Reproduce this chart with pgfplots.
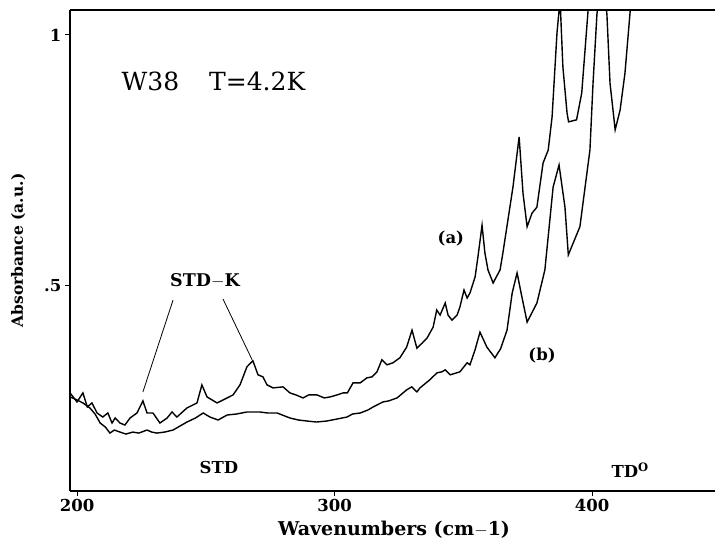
\documentclass[border=0pt]{standalone}
\usepackage{fontspec}
\setmainfont{DejaVu Serif}
\usepackage{pgfplots}
\pgfplotsset{compat=1.18}

\newcommand\lab{\fontsize{16.5}{18}\selectfont\bfseries}

\begin{document}
\begin{tikzpicture}
\begin{axis}[
    at={(0,0)}, anchor=south west,
    scale only axis,
    width=676.5pt, height=481pt,
    xmin=197.28, xmax=460,
    ymin=0.0916, ymax=1.0498,
    separate axis lines,
    axis x line=box, axis y line=left,
    x axis line style={-}, y axis line style={-},
    axis line style={line width=1.2pt},
    xtick={200,300,400}, xticklabels={200,300,400},
    ytick={0.5,1}, yticklabels={.5,1},
    tick pos=left, tick align=outside,
    major tick length=5pt,
    tick style={line width=1pt, black},
    tick label style={font=\lab},
    clip mode=individual,
    xlabel={Wavenumbers (cm$-$1)},
    ylabel={Absorbance (a.u.)},
    xlabel style={at={(ticklabel cs:0.479)}, anchor=north, font=\fontsize{19}{21}\selectfont\bfseries, yshift=-2pt},
    ylabel style={font=\fontsize{15.5}{17}\selectfont\bfseries, yshift=12pt},
]
% curve (a), upper
\addplot[black, line width=1.4pt] coordinates {
(197.3,0.287) (200,0.269) (202.3,0.287) (204,0.259) (205.8,0.267) (207.8,0.247)
(210,0.239) (212,0.247) (213.6,0.227) (214.8,0.237) (216.7,0.227) (218.6,0.223)
(220.6,0.237) (223.3,0.247) (225.6,0.271) (227.2,0.247) (229.5,0.247) (232.2,0.227)
(235,0.237) (236.9,0.249) (238.8,0.239) (242.7,0.257) (246.6,0.267) (248.5,0.303)
(250.5,0.279) (254.4,0.267) (258.3,0.277) (260.6,0.283) (263.3,0.303) (266,0.339)
(268.3,0.351) (270.3,0.323) (272.2,0.319) (273.8,0.303) (276.1,0.297) (280,0.299)
(282.7,0.287) (285,0.283) (287.8,0.277) (290,0.283) (293.2,0.283) (296,0.277)
(298.3,0.279) (301,0.283) (303.3,0.287) (305,0.287) (307.2,0.307) (310,0.307)
(312.6,0.317) (314.6,0.319) (316.5,0.329) (318.4,0.353) (320.4,0.343) (322.7,0.347)
(325.4,0.357) (328,0.378) (330.1,0.412) (332,0.376) (334,0.386) (335.9,0.396)
(338.3,0.418) (339.7,0.452) (341,0.442) (343,0.466) (344.1,0.442) (345.6,0.432)
(347.6,0.442) (348.7,0.458) (350.3,0.492) (351.5,0.476) (352.6,0.486) (354.6,0.518)
(355.7,0.558) (357.3,0.621) (358.4,0.566) (359.6,0.532) (361.6,0.506) (364.3,0.532)
(365.4,0.566) (369.3,0.697) (371.7,0.797) (373.2,0.685) (374.8,0.618) (376.7,0.645)
(378.6,0.657) (381,0.745) (383,0.771) (384.5,0.837) (386.4,1.004) (387.6,1.07)
(388.7,0.936) (390.3,0.845) (390.9,0.827) (394,0.831) (396,0.884) (398.4,1.044)
(400,1.15) (402,1.25)
};
% curve (b), lower
\addplot[black, line width=1.4pt] coordinates {
(197.3,0.279) (200,0.273) (202.3,0.267) (205,0.257) (207,0.245) (209,0.227)
(211,0.219) (212.8,0.207) (214.5,0.213) (216.7,0.209) (219,0.205) (221.7,0.209)
(224,0.207) (227.2,0.213) (229,0.209) (231,0.207) (234,0.209) (237.3,0.213)
(240,0.221) (242.7,0.229) (246,0.237) (249,0.247) (251.6,0.239) (254.8,0.233)
(258.3,0.243) (262,0.245) (266,0.249) (271,0.249) (274,0.247) (277.7,0.247)
(282.7,0.237) (286,0.233) (289.3,0.231) (293,0.229) (297,0.231) (301,0.235)
(304.9,0.239) (307,0.245) (310,0.247) (313,0.253) (315,0.259) (318.8,0.269)
(321,0.271) (324.3,0.277) (328,0.293) (330,0.299) (332,0.289) (333.2,0.297)
(337,0.313) (339.8,0.327) (341.7,0.329) (343,0.333) (344.9,0.323) (348.7,0.329)
(351.5,0.347) (352.6,0.343) (354.6,0.373) (356.5,0.408) (359.2,0.378) (362.3,0.357)
(364.5,0.375) (367,0.412) (369,0.486) (370.9,0.526) (372.5,0.485) (374.8,0.428)
(378.6,0.466) (381.7,0.532) (384.9,0.697) (387.2,0.741) (389.5,0.657) (390.8,0.562)
(395.3,0.618) (399.2,0.771) (400.4,0.904) (401.9,1.04) (404,1.15) (405.8,1.04)
(407,0.904) (409,0.811) (410.9,0.85) (412.8,0.924) (414.8,1.046) (416,1.12)
};
% annotations
\node[font=\fontsize{25}{27}\selectfont] at (axis cs:253,0.908) {W38\hspace{1.2em}T=4.2K};
\node[font=\fontsize{17.5}{19}\selectfont\bfseries] at (axis cs:249.7,0.510) {STD$-$K};
\draw[line width=0.8pt] (axis cs:237.3,0.472) -- (axis cs:225.6,0.289);
\draw[line width=0.8pt] (axis cs:256.7,0.474) -- (axis cs:268,0.353);
\node[font=\lab] at (axis cs:345.2,0.594) {(a)};
\node[font=\lab] at (axis cs:380.6,0.361) {(b)};
\node[font=\lab] at (axis cs:255.1,0.139) {STD};
\node[font=\lab] at (axis cs:414.8,0.133) {TD\textsuperscript{O}};
\end{axis}
\pgfresetboundingbox
\path[use as bounding box] (-70pt,-49pt) rectangle (645pt,491pt);
\end{tikzpicture}
\end{document}
